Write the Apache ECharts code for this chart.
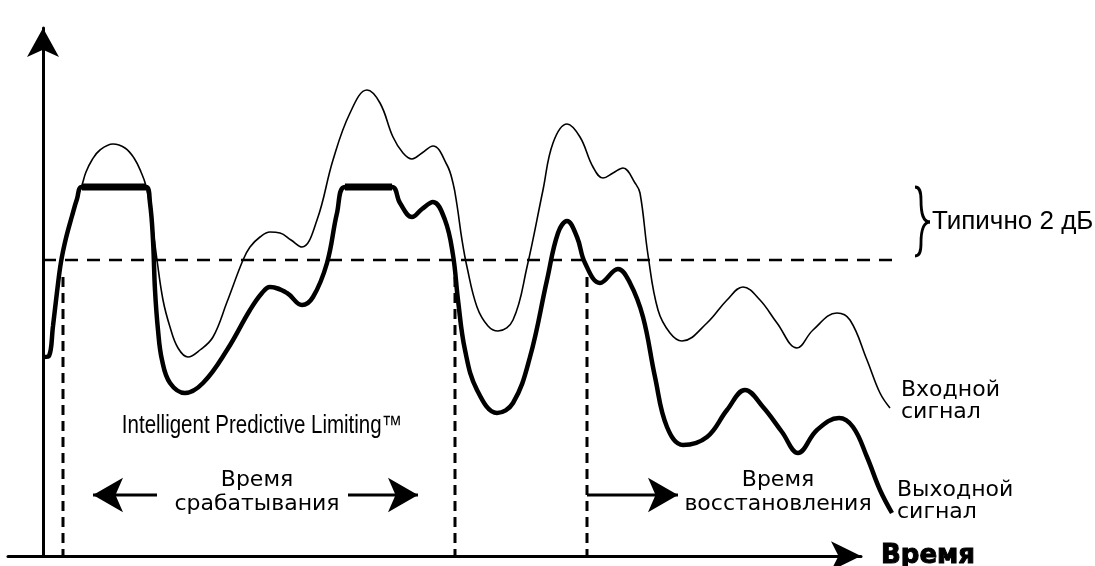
<!DOCTYPE html>
<html><head><meta charset="utf-8">
<script src="https://cdn.jsdelivr.net/npm/echarts@6/dist/echarts.min.js"></script>
<style>html,body{margin:0;padding:0;background:#fff}#c{width:1095px;height:566px}</style>
</head><body><div id="c"></div>
<script>
// time (arbitrary units), level (arbitrary units)
const inputSignal = [
 [0.1,19.9],[0.6,20.0],[1.0,23.0],[1.4,26.4],[1.8,29.4],[2.3,31.8],[2.9,34.0],[3.4,35.7],[3.9,37.1],
 [4.3,38.4],[4.9,39.6],[5.7,40.6],[7.0,41.2],[8.2,40.8],[9.1,39.8],[9.8,38.4],[10.3,37.0],
 [10.8,34.1],[11.4,29.6],[12.0,25.6],[12.7,22.9],[13.5,20.8],[14.5,19.9],[15.7,20.6],[17.0,21.9],
 [18.4,25.4],[20.0,29.6],[20.7,30.9],[21.7,31.9],[22.7,32.4],[23.7,32.3],[24.8,31.6],[25.9,30.9],
 [27.4,33.6],[29.0,39.6],[30.7,44.3],[32.4,46.6],[33.7,45.3],[35.0,41.9],[36.0,40.3],[36.9,39.7],
 [37.9,40.3],[39.0,41.0],[40.4,39.1],[41.0,37.3],[41.4,35.1],[41.9,31.6],[42.4,28.9],[43.4,24.9],
 [44.5,23.0],[45.5,22.5],[47.0,23.6],[48.4,28.9],[50.0,36.6],[51.0,41.3],[52.4,43.2],[53.7,41.9],
 [55.0,38.9],[56.0,37.8],[57.0,38.3],[58.0,38.8],[59.2,37.3],[59.7,36.3],[60.5,30.1],[61.5,24.6],
 [62.7,22.3],[63.9,21.5],[66.4,23.3],[68.4,25.6],[70.0,26.9],[71.7,25.6],[73.4,23.3],[75.4,20.8],
 [77.0,22.6],[79.4,24.3],[80.7,23.6],[82.4,19.6],[83.7,16.3],[84.7,14.8]
];
const outputSignal = [
 [0.1,19.9],[0.6,20.0],[1.0,23.0],[1.4,26.4],[1.8,29.4],[2.3,31.8],[2.9,34.0],[3.4,35.7],[3.9,36.9],
 [7.0,36.9],[10.3,36.9],[10.7,35.3],[11.0,31.6],[11.2,26.6],[11.5,22.6],[11.9,19.6],[12.7,17.3],
 [14.2,16.3],[16.0,17.3],[18.4,20.6],[20.7,24.6],[21.9,26.3],[22.7,26.9],[24.4,26.3],[25.9,25.1],
 [27.0,25.9],[28.4,29.3],[29.4,34.3],[30.2,36.9],[32.5,36.9],[34.9,36.9],[35.7,35.3],[36.9,33.9],
 [37.9,34.7],[39.0,35.4],[40.2,33.6],[41.0,30.1],[41.5,25.6],[42.2,20.6],[43.4,16.6],[45.4,14.3],
 [47.0,15.3],[48.7,19.9],[50.4,27.6],[51.5,32.3],[52.4,33.5],[53.4,31.9],[54.2,29.3],[55.7,27.3],
 [57.5,28.7],[58.7,27.3],[60.0,23.9],[61.2,17.9],[62.4,12.9],[64.0,11.1],[66.4,11.9],[68.4,14.6],
 [70.2,16.6],[72.0,14.9],[73.9,12.4],[75.5,10.3],[77.4,12.6],[79.6,13.8],[81.0,12.9],[82.4,9.9],
 [83.7,6.6],[84.9,4.3]
];
const limitLevel = 36.9;
const limitedSpans = [[3.9, 10.3], [30.2, 34.9]];
const thresholdLevel = 29.6;
const thresholdSpan = [0, 85.4];
const markerTimes = [2.0, 41.2, 54.4];
const markerTop = 27.9;
const arrowLevel = 6.1;
// [from, tip]
const timeArrows = [[11.4, 3.5], [30.5, 39.0], [54.4, 65.0]];

const chart = echarts.init(document.getElementById('c'), null, {renderer: 'canvas'});
const K = '#000';
const HEAD_HALF = 1.5; // half of arrow-head length in time units (10 px per unit)
const series = [];
const D = {xAxisIndex: 0, yAxisIndex: 0, clip: false, symbol: 'none', silent: true, animation: false};
series.push(Object.assign({}, D, {
  name: 'threshold', type: 'line', z: 1,
  data: thresholdSpan.map(t => [t, thresholdLevel]),
  lineStyle: {color: K, width: 2.5, type: [13, 9]}
}));
markerTimes.forEach(t => series.push(Object.assign({}, D, {
  type: 'line', z: 1, data: [[t, markerTop], [t, 0]],
  lineStyle: {color: K, width: 3, type: [10, 6]}
})));
timeArrows.forEach(a => {
  const dir = a[1] > a[0] ? 1 : -1;
  series.push(Object.assign({}, D, {
    type: 'line', z: 2, data: [[a[0], arrowLevel], [a[1] - dir * HEAD_HALF, arrowLevel]],
    lineStyle: {color: K, width: 3}
  }));
  series.push(Object.assign({}, D, {
    type: 'scatter', z: 3, symbol: 'arrow', symbolSize: [26, 30], symbolRotate: dir > 0 ? -90 : 90,
    itemStyle: {color: K, opacity: 1, borderWidth: 0}, data: [[a[1] - dir * HEAD_HALF, arrowLevel]]
  }));
});
series.push(Object.assign({}, D, {
  name: 'Входной сигнал', type: 'line', smooth: 0.4, z: 4,
  data: inputSignal, lineStyle: {color: K, width: 1.6}
}));
series.push(Object.assign({}, D, {
  name: 'Выходной сигнал', type: 'line', smooth: 0.4, z: 5,
  data: outputSignal, lineStyle: {color: K, width: 4.5}
}));
limitedSpans.forEach(s => series.push(Object.assign({}, D, {
  type: 'line', z: 6,
  data: [[s[0], limitLevel], [s[1], limitLevel]], lineStyle: {color: K, width: 7, cap: 'butt'}
})));

function txt(x, y, text, o) {
  return Object.assign({
    type: 'text', x: x, y: y, silent: true,
    style: Object.assign({
      text: text, fill: K, fontFamily: 'DejaVu Sans', fontSize: 22, lineHeight: 24,
      align: 'center', textAlign: 'center', verticalAlign: 'middle', textVerticalAlign: 'middle'
    }, o.style || {})
  }, o.el || {});
}
function bez(x1,y1,cx1,cy1,cx2,cy2,x2,y2){
  return {type:'bezierCurve', silent:true, shape:{x1:x1,y1:y1,cpx1:cx1,cpy1:cy1,cpx2:cx2,cpy2:cy2,x2:x2,y2:y2},
    style:{stroke:K, lineWidth:2.8, fill:null}};
}
const hidden = {axisLine: {show: false}, axisTick: {show: false}, axisLabel: {show: false}, splitLine: {show: false}};

chart.setOption({
  animation: false,
  backgroundColor: '#fff',
  grid: [
    {left: 8, right: 195, top: 28, bottom: 10, containLabel: false, outerBoundsMode: 'none'},
    {left: 8, right: 234, top: 28, bottom: 10, containLabel: false, outerBoundsMode: 'none'}
  ],
  xAxis: [
    Object.assign({type: 'value', gridIndex: 0, min: -3.5, max: 85.7}, hidden),
    {
      type: 'value', gridIndex: 1, min: -3.5, max: 81.8,
      axisLine: {show: true, onZero: false, symbol: ['none', 'arrow'], symbolSize: [22, 30], lineStyle: {color: K, width: 3}},
      axisTick: {show: false}, axisLabel: {show: false}, splitLine: {show: false},
      name: 'Время', nameLocation: 'end', nameGap: 20,
      nameTextStyle: {fontFamily: 'DejaVu Sans', fontWeight: 'bold', fontSize: 26, color: K,
        align: 'left', verticalAlign: 'middle', textBorderColor: K, textBorderWidth: 1}
    }
  ],
  yAxis: [
    Object.assign({type: 'value', gridIndex: 0, min: 0, max: 52.8}, hidden),
    {
      type: 'value', gridIndex: 1, min: 0, max: 52.8,
      axisLine: {show: true, onZero: true, symbol: ['none', 'arrow'], symbolSize: [24, 29], lineStyle: {color: K, width: 3}},
      axisTick: {show: false}, axisLabel: {show: false}, splitLine: {show: false}
    }
  ],
  series: series,
  graphic: [
    txt(262, 426, 'Intelligent Predictive Limiting™', {el: {scaleX: 0.82}, style: {fontFamily: 'Liberation Sans', fontSize: 25}}),
    txt(257, 492, 'Время\nсрабатывания', {}),
    txt(778, 492, 'Время\nвосстановления', {}),
    txt(901, 401, 'Входной\nсигнал', {style: {align: 'left', textAlign: 'left', lineHeight: 22}}),
    txt(897, 501, 'Выходной\nсигнал', {style: {align: 'left', textAlign: 'left', lineHeight: 22}}),
    txt(932, 222, 'Типично 2 дБ', {style: {align: 'left', textAlign: 'left', fontFamily: 'Liberation Sans', fontSize: 26}}),
    bez(915,187, 920,187, 921,192, 921,200),
    bez(921,200, 921,214, 923,222, 930,222),
    bez(930,222, 923,222, 921,230, 921,243),
    bez(921,243, 921,251, 920,256, 915,256)
  ]
});
</script></body></html>
